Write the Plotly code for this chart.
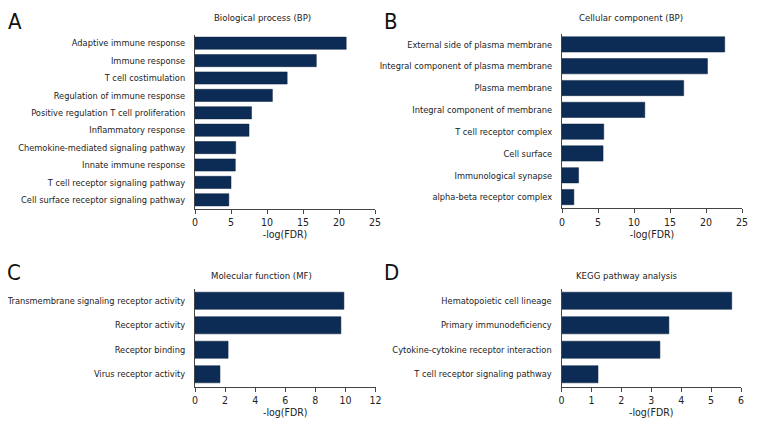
import plotly.graph_objects as go

# ---- data ----
bp_terms = ["Adaptive immune response", "Immune response", "T cell costimulation",
            "Regulation of immune response", "Positive regulation T cell proliferation",
            "Inflammatory response", "Chemokine-mediated signaling pathway",
            "Innate immune response", "T cell receptor signaling pathway",
            "Cell surface receptor signaling pathway"]
bp_values = [21.0, 16.85, 12.8, 10.75, 7.85, 7.5, 5.65, 5.6, 5.0, 4.7]

cc_terms = ["External side of plasma membrane", "Integral component of plasma membrane",
            "Plasma membrane", "Integral component of membrane", "T cell receptor complex",
            "Cell surface", "Immunological synapse", "alpha-beta receptor complex"]
cc_values = [22.6, 20.2, 16.9, 11.5, 5.8, 5.7, 2.3, 1.65]

mf_terms = ["Transmembrane signaling receptor activity", "Receptor activity",
            "Receptor binding", "Virus receptor activity"]
mf_values = [9.9, 9.7, 2.2, 1.66]

kegg_terms = ["Hematopoietic cell lineage", "Primary immunodeficiency",
              "Cytokine-cytokine receptor interaction", "T cell receptor signaling pathway"]
kegg_values = [5.69, 3.59, 3.29, 1.22]

panel_titles = ["Biological process (BP)", "Cellular component (BP)",
                "Molecular function (MF)", "KEGG pathway analysis"]
panel_letters = ["A", "B", "C", "D"]
x_ranges = [[0, 25], [0, 25], [0, 12], [0, 6]]
x_dticks = [5, 5, 2, 1]
x_title = "-log(FDR)"

FONT = "DejaVu Sans Condensed, Liberation Sans Narrow, sans-serif"
BAR = "#0c2c55"
TXT = "#222"
W, H = 768, 432
OFF = 8  # page body margin offset

# domains in page pixels (x0, x1, ytop, ybottom)
dom_px = [(195, 375, 34.5, 208.5), (562, 742, 33.5, 208.0),
          (195, 375.5, 288.5, 386.5), (561.5, 741, 288.5, 386.5)]
title_pos = [(262, 18), (631, 18), (261, 275), (627, 275)]
letter_pos = [(15, 8), (391, 8), (14, 259), (391, 259)]  # top of letter box


def px(x):
    return (x - OFF) / W


def py(y):
    return 1 - (y - OFF) / H


fig = go.Figure()
datasets = [(bp_terms, bp_values), (cc_terms, cc_values),
            (mf_terms, mf_values), (kegg_terms, kegg_values)]

for i, (terms, vals) in enumerate(datasets):
    sfx = "" if i == 0 else str(i + 1)
    fig.add_trace(go.Bar(x=vals, y=terms, orientation="h",
                         marker=dict(color=BAR, line=dict(color="#08213f", width=0.5)),
                         xaxis="x" + sfx, yaxis="y" + sfx, showlegend=False))
    x0, x1, yt, yb = dom_px[i]
    fig.layout["xaxis" + sfx] = dict(
        domain=[px(x0), px(x1)], range=x_ranges[i], dtick=x_dticks[i], tick0=0,
        anchor="y" + sfx, showgrid=False, zeroline=False, automargin=False,
        showline=True, linecolor="#444", linewidth=1,
        ticks="outside", ticklen=4, tickcolor="#444",
        tickfont=dict(family=FONT, size=10.5, color=TXT),
        title=dict(text=x_title, font=dict(family=FONT, size=10.5, color=TXT), standoff=1),
        fixedrange=True)
    fig.layout["yaxis" + sfx] = dict(
        domain=[py(yb), py(yt)], anchor="x" + sfx, autorange="reversed",
        showgrid=False, zeroline=False, automargin=False,
        showline=True, linecolor="#444", linewidth=1,
        ticks="", ticklabelstandoff=7,
        tickfont=dict(family=FONT, size=9.2, color=TXT), fixedrange=True)

annotations = []
for i in range(4):
    tx, ty = title_pos[i]
    annotations.append(dict(text=panel_titles[i], x=px(tx), y=py(ty),
                            xref="paper", yref="paper", showarrow=False,
                            xanchor="center", yanchor="middle",
                            font=dict(family=FONT, size=9.5, color=TXT)))
    lx, ly = letter_pos[i]
    annotations.append(dict(text=panel_letters[i], x=px(lx), y=py(ly),
                            xref="paper", yref="paper", showarrow=False,
                            xanchor="center", yanchor="top", borderpad=0,
                            font=dict(family=FONT, size=22, color="#111")))

fig.update_layout(width=W, height=H, margin=dict(l=0, r=0, t=0, b=0),
                  paper_bgcolor="white", plot_bgcolor="white", bargap=0.3,
                  annotations=annotations, font=dict(family=FONT))

fig.write_html("out.html")
